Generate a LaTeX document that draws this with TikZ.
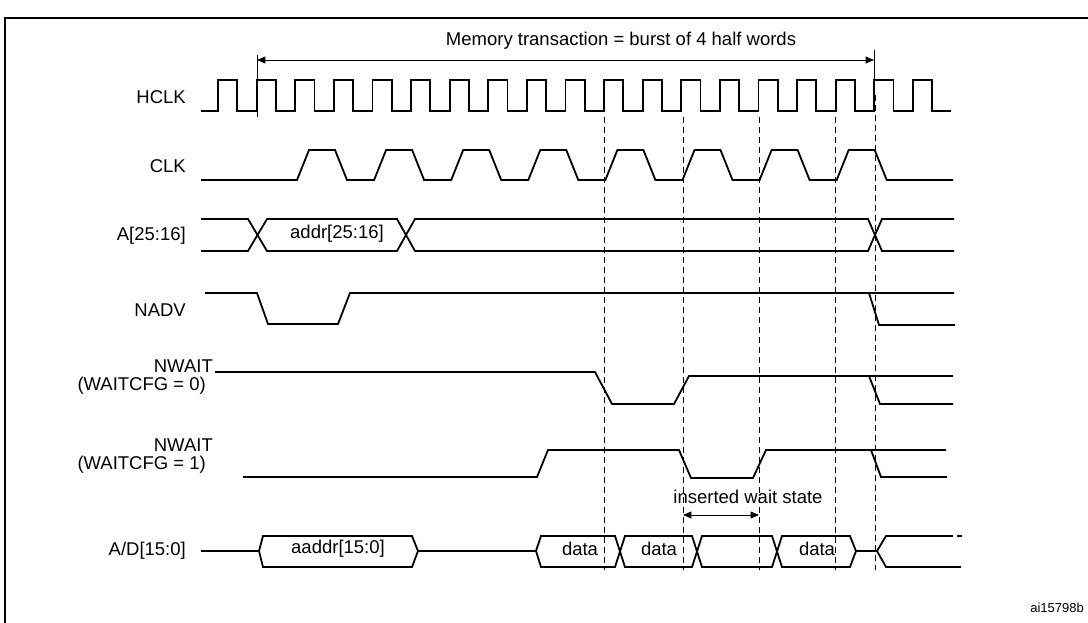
\documentclass[tikz,border=0pt]{standalone}
\usepackage{fontspec}
\setmainfont{Liberation Sans}
\usetikzlibrary{arrows}
\tikzstyle{sig} = [line width=1.8pt, line join=miter]
\tikzstyle{guide} = [line width=0.9pt, dash pattern=on 6pt off 4pt]
\tikzstyle{span} = [line width=0.9pt,<->,>=triangle 45]
\tikzstyle{lbl} = [anchor=east, inner sep=0pt, font=\fontsize{18.5}{20}\selectfont]
\tikzstyle{txt} = [inner sep=0pt, font=\fontsize{18.5}{20}\selectfont]

\begin{document}
\begin{tikzpicture}[x=1pt,y=-1pt]
        \useasboundingbox (0,0) rectangle (1088,623);
        \draw [line width=1.6pt] (1088,18) -- (5,18) -- (5,623);
        
        %signal names
        \node [lbl] (hclk) at (186,97) {HCLK};
        \node [lbl] (clk) at (186,166) {CLK};
        \node [lbl] (addrhi) at (186,236) {A[25:16]};
        \node [lbl] (nadv) at (186,310) {NADV};
        \node [lbl] (nwaita) at (213,366) {NWAIT};
        \node [lbl] (cfga) at (206,386) {(WAITCFG = 0)};
        \node [lbl] (nwaitb) at (213,445) {NWAIT};
        \node [lbl] (cfgb) at (206,465) {(WAITCFG = 1)};
        \node [lbl] (ad) at (186,551) {A/D[15:0]};
        \node [txt, anchor=east, font=\fontsize{13}{14}\selectfont] (ref) at (1084,608) {ai15798b};
        
        %transaction span
        \coordinate (tstart) at (257,55);
        \coordinate (tend) at (874,50);
        \draw [line width=0.9pt] (tstart) -- (257,117);
        \draw [line width=0.9pt] (tend) -- (874,95);
        \draw [span] (257,60) -- (874,60);
        \node [txt] (trans) at (621,41) {Memory transaction = burst of 4 half words};
        
        %guide lines
        \foreach \x in {604,683,759,835}
            \draw [guide] (\x,117) -- (\x,570);
        \draw [guide] (875,95) -- (875,570);
        
        %HCLK
        \draw [sig] (201,111) \foreach \k in {0,...,18}{ -- ({218+38.6*\k},111) -- ++(0,-31) -- ++(19.3,0) -- ++(0,31)} -- (951,111);
        
        %CLK
        \draw [sig] (201,180) \foreach \k in {0,...,7}{ -- ({297+77.1*\k},180) -- ++(12,-30) -- ++(26,0) -- ++(12,30)} -- (953,180);
        
        %A[25:16]
        \draw [sig] (201,219) -- (248,219) -- (267,251) -- (397,251) -- (415,219) -- (868,219) -- (882,251) -- (954,251);
        \draw [sig] (201,251) -- (248,251) -- (267,219) -- (397,219) -- (415,251) -- (868,251) -- (882,219) -- (954,219);
        \node [txt] (addrlbl) at (337,234) {addr[25:16]};
        
        %NADV
        \draw [sig] (205,293) -- (257,293) -- (268,324) -- (338,324) -- (350,293) -- (954,293);
        \draw [sig] (869,293) -- (879,325) -- (955,325);
        
        %NWAIT, WAITCFG = 0
        \draw [sig] (215,372) -- (595,372) -- (612,404) -- (674,404) -- (689,376) -- (953,376);
        \draw [sig] (869,376) -- (880,404) -- (953,404);
        
        %NWAIT, WAITCFG = 1
        \draw [sig] (243,477) -- (537,477) -- (548,450) -- (679,450) -- (691,478) -- (753,478) -- (766,450) -- (946,450);
        \draw [sig] (871,450) -- (881,477) -- (947,477);
        
        %wait state
        \node [txt] (wait) at (748,497) {inserted wait state};
        \draw [span] (683,515) -- (759,515);
        
        %A/D[15:0]
        \draw [sig] (201,551) -- (259,551) -- (263,536) -- (412,536) -- (418,551) -- (536,551) -- (541,536) -- (615,536) -- (625,567) -- (692,567) -- (702,536) -- (772,536) -- (782,567) -- (850,567) -- (856,551) -- (877,551) -- (886,536) -- (953,536);
        \draw [sig] (259,551) -- (263,567) -- (412,567) -- (418,551);
        \draw [sig] (536,551) -- (541,567) -- (615,567) -- (625,536) -- (692,536) -- (702,567) -- (772,567) -- (782,536) -- (850,536) -- (856,551);
        \draw [sig] (877,551) -- (886,567) -- (961,567);
        \draw [sig] (957,536) -- (962,536);
        \node [txt] (aaddr) at (338,549) {aaddr[15:0]};
        \node [txt] (d1) at (580,549) {data};
        \node [txt] (d2) at (659,549) {data};
        \node [txt] (d3) at (817,549) {data};
    
    \end{tikzpicture}
\end{document}
